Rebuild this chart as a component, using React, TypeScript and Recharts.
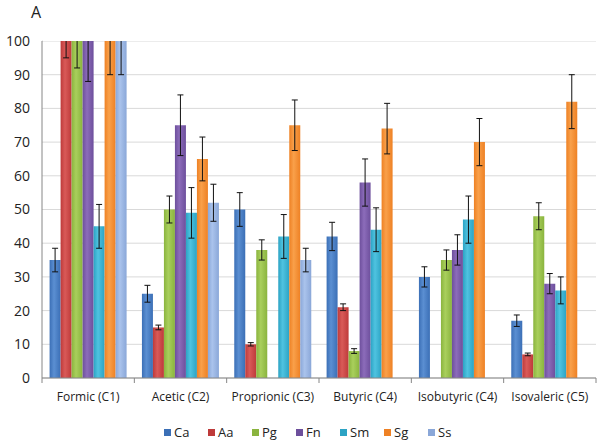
import { BarChart, Bar, XAxis, YAxis, CartesianGrid, Legend, ErrorBar } from 'recharts';

const categories = ['Formic (C1)', 'Acetic (C2)', 'Proprionic (C3)', 'Butyric (C4)', 'Isobutyric (C4)', 'Isovaleric (C5)'];
const yTicks = [0, 10, 20, 30, 40, 50, 60, 70, 80, 90, 100];

// mean values per organism (null = not detected)
const ca = [35, 25, 50, 42, 30, 17];
const aa = [100, 15, 10, 21, null, 7];
const pg = [100, 50, 38, 8, 35, 48];
const fn = [100, 75, null, 58, 38, 28];
const sm = [45, 49, 42, 44, 47, 26];
const sg = [100, 65, 75, 74, 70, 82];
const ss = [100, 52, 35, null, null, null];

// standard deviations
const caErr = [3.5, 2.5, 5, 4.2, 3, 1.7];
const aaErr = [5, 0.7, 0.5, 1, 0, 0.4];
const pgErr = [8, 4, 3, 0.7, 3, 4];
const fnErr = [12, 9, 0, 7, 4.5, 3];
const smErr = [6.5, 7.5, 6.5, 6.5, 7, 4];
const sgErr = [10, 6.5, 7.5, 7.5, 7, 8];
const ssErr = [10, 5.5, 3.5, 0, 0, 0];

const series = [
  { key: 'Ca', values: ca, errs: caErr, color: '#3b6fb6', light: '#5b8fd2' },
  { key: 'Aa', values: aa, errs: aaErr, color: '#be3a3a', light: '#d95a58' },
  { key: 'Pg', values: pg, errs: pgErr, color: '#8ab43e', light: '#a9cf5c' },
  { key: 'Fn', values: fn, errs: fnErr, color: '#6d4f9c', light: '#8c6cba' },
  { key: 'Sm', values: sm, errs: smErr, color: '#2ca3c4', light: '#4fc3e0' },
  { key: 'Sg', values: sg, errs: sgErr, color: '#ee8124', light: '#f9a04a' },
  { key: 'Ss', values: ss, errs: ssErr, color: '#8aa7d8', light: '#aac3ec' },
];

const data = categories.map((name, i) => {
  const row: Record<string, any> = { name };
  series.forEach((s) => {
    row[s.key] = s.values[i];
    row[s.key + 'Err'] = s.errs[i];
  });
  return row;
});

const FONT = '"Open Sans", sans-serif';
const BAND = 554 / 6;

function CategoryTick(props: any) {
  const { x, y, payload, index } = props;
  return (
    <g>
      <line x1={x - BAND / 2} x2={x - BAND / 2} y1={y} y2={y + 5} stroke="#868686" />
      {index === categories.length - 1 && (
        <line x1={x + BAND / 2} x2={x + BAND / 2} y1={y} y2={y + 5} stroke="#868686" />
      )}
      <text x={x} y={y + 23} textAnchor="middle" fontSize={12} fill="#222" fontFamily={FONT}>
        {payload.value}
      </text>
    </g>
  );
}

function LegendRow() {
  return (
    <svg width={600} height={20}>
      {series.map((s, i) => {
        const x = 164 + i * 44;
        return (
          <g key={s.key}>
            <rect x={x} y={6} width={7} height={7} fill={s.color} />
            <text x={x + 10} y={14} fontSize={13} fill="#222" fontFamily={FONT}>
              {s.key}
            </text>
          </g>
        );
      })}
    </svg>
  );
}

export default function App() {
  return (
    <div style={{ position: 'absolute', left: 0, top: 0, width: 600, height: 443, background: '#fff' }}>
      <BarChart
        width={600}
        height={443}
        data={data}
        margin={{ top: 41, right: 4, left: 0, bottom: 0 }}
        barCategoryGap={7.6}
        barGap={0}
      >
        <defs>
          {series.map((s) => (
            <linearGradient key={s.key} id={'g' + s.key} x1="0" y1="0" x2="1" y2="0">
              <stop offset="0%" stopColor={s.color} />
              <stop offset="40%" stopColor={s.light} />
              <stop offset="100%" stopColor={s.color} />
            </linearGradient>
          ))}
        </defs>
        <CartesianGrid vertical={false} stroke="#d9d9d9" />
        <XAxis
          dataKey="name"
          height={45}
          stroke="#868686"
          tickLine={false}
          tickSize={0}
          tickMargin={0}
          interval={0}
          tick={<CategoryTick />}
        />
        <YAxis
          width={42}
          domain={[0, 100]}
          ticks={yTicks}
          allowDataOverflow
          stroke="#868686"
          tickLine={false}
          tick={{ fontSize: 14, fill: '#222', fontFamily: FONT }}
          tickMargin={6}
        />
        <Legend verticalAlign="bottom" height={20} content={() => <LegendRow />} />
        {series.map((s) => (
          <Bar key={s.key} dataKey={s.key} fill={`url(#g${s.key})`} isAnimationActive={false}>
            <ErrorBar dataKey={s.key + 'Err'} width={3} stroke="#111" strokeWidth={1} />
          </Bar>
        ))}
      </BarChart>
      {/* hide the parts of the error bars that run past the 100 ceiling */}
      <div style={{ position: 'absolute', left: 43, top: 0, width: 557, height: 40.5, background: '#fff' }} />
      <div style={{ position: 'absolute', left: 31, top: 1, fontSize: 16, fontFamily: FONT, color: '#222' }}>A</div>
    </div>
  );
}
